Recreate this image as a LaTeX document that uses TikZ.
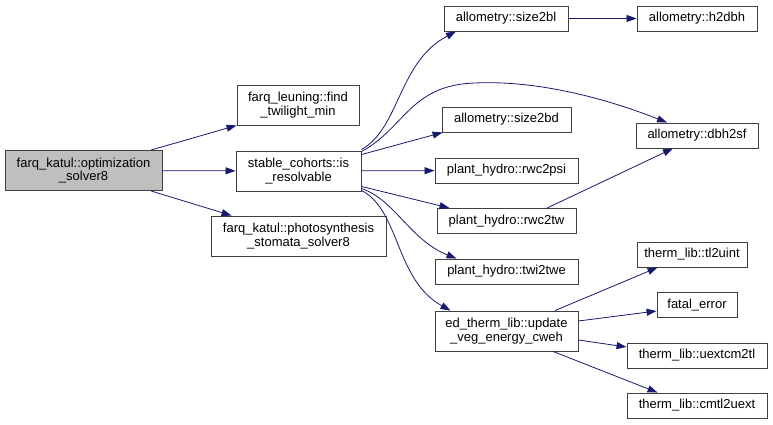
\documentclass[tikz,border=0pt]{standalone}
\usepackage{fontspec}
\setmainfont{Liberation Sans}
\usepackage{xcolor}
\definecolor{edgeblue}{HTML}{191970}
\definecolor{boxgray}{HTML}{BFBFBF}
\definecolor{bordergray}{HTML}{404040}
\usepackage{tikz}
\usetikzlibrary{arrows.meta, positioning}
\tikzstyle{arrow} = [
  -{Triangle[length=10pt,width=7pt]}, line width=0.8pt, color=edgeblue
]

\begin{document}
\begin{tikzpicture}[
  x=1pt, y=-1pt,
  every node/.style={font=\fontsize{13}{13.4}\selectfont},
  func/.style={rectangle, draw=bordergray, fill=white, line width=0.9pt,
               inner sep=0pt, align=center, minimum height=25pt},
  twoline/.style={func, minimum height=40pt},
  root/.style={twoline, fill=boxgray},
]
  \useasboundingbox (0,0) rectangle (773,425);

  \node[root, minimum width=157pt]    at (83.5,170.5)
    (optsolver) {farq\_katul::optimization\\\_solver8};
  \node[twoline, minimum width=122pt] at (298,105)
    (twilight)  {farq\_leuning::find\\\_twilight\_min};
  \node[twoline, minimum width=125pt] at (298.5,171)
    (resolv)    {stable\_cohorts::is\\\_resolvable};
  \node[twoline, minimum width=175pt] at (298.5,236)
    (photo)     {farq\_katul::photosynthesis\\\_stomata\_solver8};
  \node[func, minimum width=124pt]    at (506,18.5)
    (size2bl)   {allometry::size2bl};
  \node[func, minimum width=120pt]    at (697,18.5)
    (h2dbh)     {allometry::h2dbh};
  \node[func, minimum width=129pt]    at (506.5,119.5)
    (size2bd)   {allometry::size2bd};
  \node[func, minimum width=122pt]    at (697,135.5)
    (dbh2sf)    {allometry::dbh2sf};
  \node[func, minimum width=143pt]    at (506.5,170.5)
    (rwc2psi)   {plant\_hydro::rwc2psi};
  \node[func, minimum width=139pt]    at (506.5,221)
    (rwc2tw)    {plant\_hydro::rwc2tw};
  \node[func, minimum width=143pt]    at (506.5,271.5)
    (twi2twe)   {plant\_hydro::twi2twe};
  \node[twoline, minimum width=143pt] at (506.5,331)
    (vegenergy) {ed\_therm\_lib::update\\\_veg\_energy\_cweh};
  \node[func, minimum width=110pt]    at (692,254.5)
    (tl2uint)   {therm\_lib::tl2uint};
  \node[func, minimum width=80pt]     at (697,305)
    (fatalerr)  {fatal\_error};
  \node[func, minimum width=140pt]    at (697,355.5)
    (uextcm2tl) {therm\_lib::uextcm2tl};
  \node[func, minimum width=140pt]    at (697,405.5)
    (cmtl2uext) {therm\_lib::cmtl2uext};

  \draw[arrow] ([xshift=67.5pt]optsolver.north) -- (twilight.south west);
  \draw[arrow] (optsolver) -- (resolv);
  \draw[arrow] ([xshift=67.5pt]optsolver.south) -- ([xshift=21pt]photo.north west);

  \draw[arrow] ([yshift=1pt]resolv.north east)
    .. controls (400,128) and (398,62) .. ([xshift=-50pt]size2bl.south);
  \draw[arrow] ([yshift=-1pt]resolv.north east)
    .. controls (405,128) and (410,85) .. (475,83)
    .. controls (540,80) and (610,100) .. ([xshift=-30pt]dbh2sf.north);
  \draw[arrow] ([yshift=-4pt]resolv.north east) -- ([xshift=1pt]size2bd.south west);
  \draw[arrow] (resolv) -- (rwc2psi);
  \draw[arrow] ([yshift=5pt]resolv.south east) -- ([xshift=-57pt]rwc2tw.north);
  \draw[arrow] ([yshift=3pt]resolv.south east)
    .. controls (395,200) and (410,240) .. ([xshift=-50pt]twi2twe.north);
  \draw[arrow] ([yshift=1pt]resolv.south east)
    .. controls (400,210) and (395,280) .. ([xshift=-56pt]vegenergy.north);

  \draw[arrow] ([xshift=40.5pt]rwc2tw.north) -- ([xshift=-24pt]dbh2sf.south);
  \draw[arrow] (size2bl) -- (h2dbh);

  \draw[arrow] ([xshift=48.5pt]vegenergy.north) -- ([xshift=21pt]tl2uint.south west);
  \draw[arrow] ([yshift=10pt]vegenergy.east) -- ([yshift=-6pt]fatalerr.west);
  \draw[arrow] ([yshift=-9pt]vegenergy.east) -- ([yshift=8.5pt]uextcm2tl.west);
  \draw[arrow] ([xshift=46.5pt]vegenergy.south) -- ([xshift=31pt]cmtl2uext.north west);
\end{tikzpicture}
\end{document}
